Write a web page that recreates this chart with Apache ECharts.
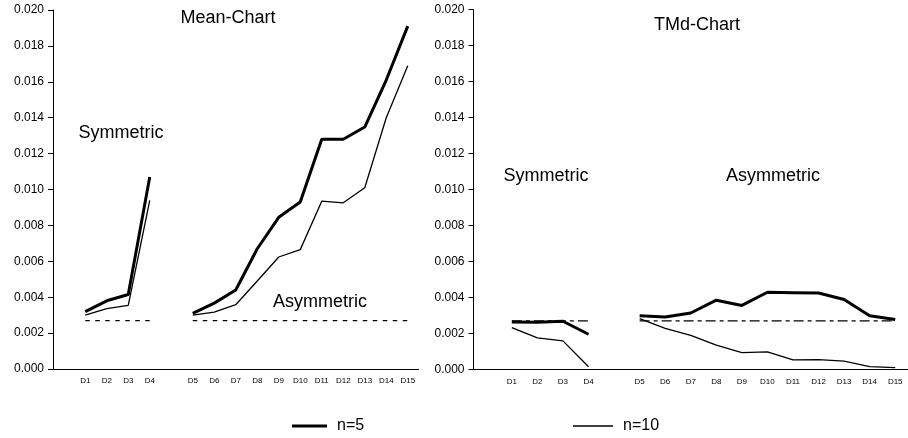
<!DOCTYPE html>
<html>
<head>
<meta charset="utf-8">
<script src="https://cdn.jsdelivr.net/npm/echarts@6/dist/echarts.min.js"></script>
<style>
  html, body { margin: 0; padding: 0; background: #fff; }
  #main { width: 908px; height: 438px; }
</style>
</head>
<body>
<div id="main"></div>
<script>
// categories: empty slots make the gap before D1 and between D4 and D5
var categories = ['', 'D1', 'D2', 'D3', 'D4', ' ', 'D5', 'D6', 'D7', 'D8', 'D9', 'D10', 'D11', 'D12', 'D13', 'D14', 'D15'];

// Mean-Chart
var meanN5  = [null, 0.0032, 0.0038, 0.00415, 0.0107, null, 0.0031, 0.00367, 0.0044, 0.0067, 0.00845, 0.0093, 0.0128, 0.0128, 0.01348, 0.0161, 0.0191];
var meanN10 = [null, 0.0030, 0.00336, 0.00354, 0.0094, null, 0.0030, 0.00317, 0.00358, 0.0049, 0.00624, 0.00665, 0.00935, 0.00926, 0.0101, 0.0140, 0.0169];
var meanLimit = [null, 0.0027, 0.0027, 0.0027, 0.0027, null, 0.0027, 0.0027, 0.0027, 0.0027, 0.0027, 0.0027, 0.0027, 0.0027, 0.0027, 0.0027, 0.0027];

// TMd-Chart
var tmdN5  = [null, 0.00264, 0.00262, 0.00268, 0.00196, null, 0.00298, 0.00292, 0.00314, 0.00385, 0.00356, 0.00429, 0.00427, 0.00425, 0.00389, 0.00298, 0.00278];
var tmdN10 = [null, 0.00233, 0.00176, 0.00159, 0.00015, null, 0.00283, 0.00228, 0.0019, 0.00135, 0.00094, 0.00098, 0.00054, 0.00055, 0.00046, 0.00016, 0.0001];
var tmdLimit = [null, 0.0027, 0.0027, 0.0027, 0.0027, null, 0.0027, 0.0027, 0.0027, 0.0027, 0.0027, 0.0027, 0.0027, 0.0027, 0.0027, 0.0027, 0.0027];

var yMin = 0, yMax = 0.02, yStep = 0.002;

var font = 'Liberation Sans, Arial, sans-serif';

var chart = echarts.init(document.getElementById('main'));

function xAxisOf(idx) {
  return {
    type: 'category',
    gridIndex: idx,
    data: categories,
    boundaryGap: true,
    axisTick: { show: false },
    axisLine: { lineStyle: { color: '#000', width: 1 } },
    axisLabel: { interval: 0, color: '#000', fontSize: 8, fontFamily: font, margin: 8 },
    splitLine: { show: false }
  };
}

function yAxisOf(idx) {
  return {
    type: 'value',
    gridIndex: idx,
    min: yMin,
    max: yMax,
    interval: yStep,
    axisLine: { show: true, lineStyle: { color: '#000', width: 1 } },
    axisTick: { show: true, length: 5, lineStyle: { color: '#000' } },
    axisLabel: {
      color: '#000', fontSize: 12, fontFamily: font, margin: 9,
      formatter: function (v) { return v.toFixed(3); }
    },
    splitLine: { show: false }
  };
}

function lineSeries(name, idx, data, width, dash) {
  return {
    name: name,
    type: 'line',
    xAxisIndex: idx,
    yAxisIndex: idx,
    data: data,
    symbol: 'none',
    connectNulls: false,
    silent: true,
    lineStyle: { color: '#000', width: width, type: dash || 'solid' },
    itemStyle: { color: '#000' }
  };
}

function label(text, x, y) {
  return {
    type: 'text',
    x: x,
    y: y,
    style: { text: text, fill: '#000', font: '18px ' + font, align: 'center', verticalAlign: 'middle' }
  };
}

function legendOf(name, x, w, h) {
  return {
    left: x, top: 418, padding: 0, itemGap: 0,
    data: [{ name: name, icon: 'rect' }],
    itemWidth: w, itemHeight: h,
    itemStyle: { color: '#000', borderWidth: 0 },
    lineStyle: { width: 0, opacity: 0 },
    textStyle: { color: '#000', fontSize: 16, fontFamily: font, padding: [0, 0, 0, 5] },
    selectedMode: false
  };
}

var option = {
  backgroundColor: '#fff',
  animation: false,
  grid: [
    { left: 53, right: 489.5, top: 10, bottom: 69 },
    { left: 473.5, right: -3, top: 9.5, bottom: 68.5 }
  ],
  xAxis: [xAxisOf(0), xAxisOf(1)],
  yAxis: [yAxisOf(0), yAxisOf(1)],
  legend: [
    legendOf('n=5', 292, 35, 3),
    legendOf('n=10', 573, 40, 1.3)
  ],
  series: [
    lineSeries('limit', 0, meanLimit, 1.2, [4.5, 5.5]),
    lineSeries('n=10', 0, meanN10, 1.3),
    lineSeries('n=5', 0, meanN5, 3),
    lineSeries('limit', 1, tmdLimit, 1.2, [10, 4, 4, 4]),
    lineSeries('n=10', 1, tmdN10, 1.3),
    lineSeries('n=5', 1, tmdN5, 3)
  ],
  graphic: [
    label('Mean-Chart', 228, 18),
    label('Symmetric', 121, 133),
    label('Asymmetric', 320, 302),
    label('TMd-Chart', 697, 25),
    label('Symmetric', 546, 176),
    label('Asymmetric', 773, 176)
  ]
};

chart.setOption(option);
</script>
</body>
</html>
